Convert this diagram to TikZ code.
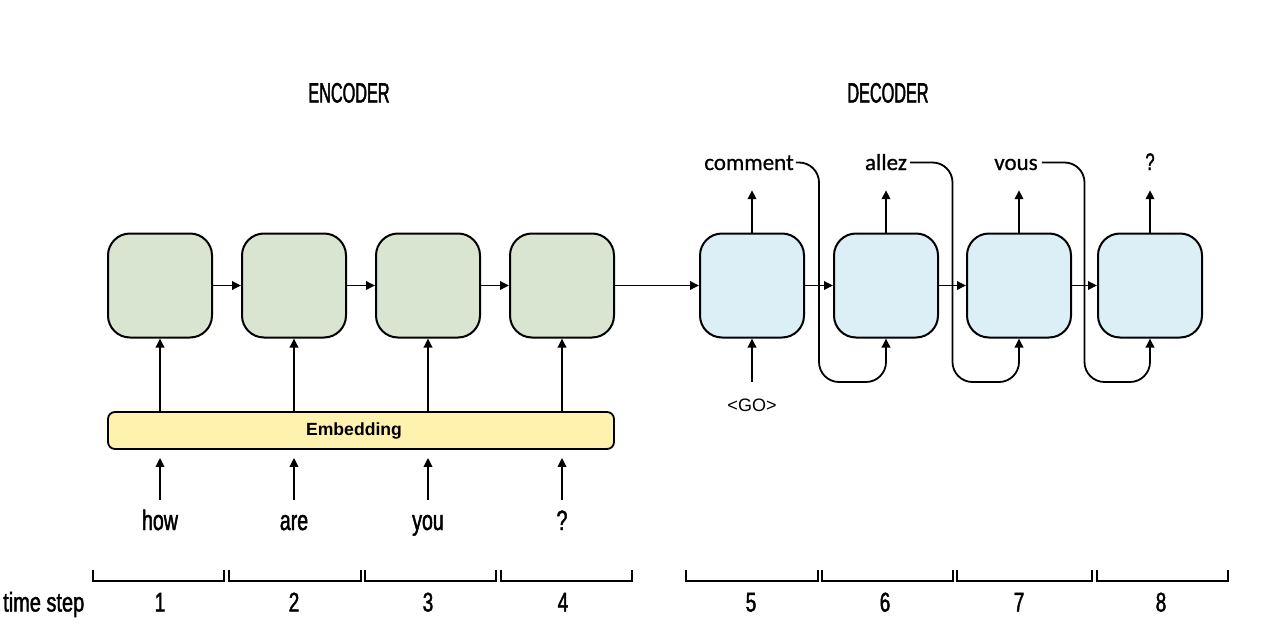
\documentclass[tikz,border=0pt]{standalone}
\usepackage{fontspec}
\setmainfont{Liberation Sans}
\newfontfamily\titlefont[FakeStretch=0.58,FakeBold=1.6]{Liberation Sans}
\newfontfamily\condfont[FakeStretch=0.70,FakeBold=1.6]{Liberation Sans}
\newfontfamily\stepfont[FakeStretch=0.74,FakeBold=1.6]{Liberation Sans}
\newfontfamily\calfont[FakeBold=0.8]{Carlito}
\usetikzlibrary{arrows.meta,calc}

\definecolor{encfill}{HTML}{D9E5D0}
\definecolor{decfill}{HTML}{DCEEF6}
\definecolor{embfill}{HTML}{FEF2AE}

\begin{document}
\begin{tikzpicture}[x=1pt,y=-1pt,
  cell/.style={draw, line width=2pt, rounded corners=22pt,
    minimum width=104pt, minimum height=104pt, inner sep=0pt},
  enc/.style={cell, fill=encfill},
  dec/.style={cell, fill=decfill},
  emb/.style={draw, line width=1.8pt, fill=embfill, rounded corners=7pt,
    minimum width=506pt, minimum height=37pt, inner sep=0pt,
    font=\bfseries\fontsize{17.6}{20}\selectfont},
  conn/.style={line width=1.8pt, -{Triangle[length=9pt,width=8.5pt]}},
  feedback/.style={conn, rounded corners=20pt},
  bracket/.style={line width=1.8pt},
  title/.style={anchor=base, inner sep=0pt, font=\titlefont\fontsize{28}{30}\selectfont},
  word/.style={anchor=base, inner sep=0pt, text height=22pt, text depth=0pt,
    font=\condfont\fontsize{28}{30}\selectfont},
  outlab/.style={anchor=base, inner sep=0pt, text height=15pt, text depth=0pt,
    font=\calfont\fontsize{23}{26}\selectfont},
  qlab/.style={outlab, font=\condfont\fontsize{24}{26}\selectfont},
  golab/.style={anchor=base, inner sep=0pt, text height=13.5pt, text depth=0pt,
    font=\fontsize{18}{20}\selectfont},
  num/.style={anchor=base, inner sep=0pt, font=\condfont\fontsize{27}{30}\selectfont},
  steplab/.style={anchor=base west, inner sep=0pt, font=\stepfont\fontsize{27}{30}\selectfont}
]
\useasboundingbox (0,0) rectangle (1267,629);
\fill[white] (0,0) rectangle (1267,629);

% headings
\node[title] (enctitle) at (349,102.5) {ENCODER};
\node[title] (dectitle) at (888,102.5) {DECODER};

% encoder cells
\node[enc] (e1) at (160,285.5) {};
\node[enc] (e2) at (294,285.5) {};
\node[enc] (e3) at (428,285.5) {};
\node[enc] (e4) at (562,285.5) {};

% decoder cells
\node[dec] (d5) at (752,285.5) {};
\node[dec] (d6) at (886,285.5) {};
\node[dec] (d7) at (1019,285.5) {};
\node[dec] (d8) at (1150,285.5) {};

% embedding layer (label set slightly left of and below the bar's centre)
\node[emb] (emb) at (361,430.5) {\raisebox{-3pt}{Embedding}\hspace*{14pt}};

% input words
\node[word] (w1) at (160,530) {how};
\node[word] (w2) at (294,530) {are};
\node[word] (w3) at (428,530) {you};
\node[word] (w4) at (562,530) {?};

% decoder outputs and start token
\node[outlab] (o5) at (749,170) {comment};
\node[outlab] (o6) at (886,170) {allez};
\node[outlab] (o7) at (1016,170) {vous};
\node[qlab] (o8) at (1150,170) {?};
\node[golab] (go) at (752,411.5) {<GO>};

\coordinate (low) at (0,382);
\coordinate (g56) at ($(d5.east)!0.5!(d6.west)$);
\coordinate (g67) at ($(d6.east)!0.5!(d7.west)$);
\coordinate (g78) at ($(d7.east)!0.5!(d8.west)$);

% recurrent connections
\draw[conn] (e1.east) -- (e2.west);
\draw[conn] (e2.east) -- (e3.west);
\draw[conn] (e3.east) -- (e4.west);
\draw[conn] (e4.east) -- (d5.west);
\draw[conn] (d5.east) -- (d6.west);
\draw[conn] (d6.east) -- (d7.west);
\draw[conn] (d7.east) -- (d8.west);

% embedding to encoder cells
\foreach \c in {e1,e2,e3,e4}
  \draw[conn] (\c |- emb.north) -- (\c.south);

% words to embedding
\foreach \w in {w1,w2,w3,w4}
  \draw[conn, shorten <=8pt, shorten >=8pt] (\w.north) -- (\w.north |- emb.south);

% decoder outputs
\draw[conn, shorten >=20pt] (d5.north) -- (d5.north |- o5.south);
\draw[conn, shorten >=20pt] (d6.north) -- (d6.north |- o6.south);
\draw[conn, shorten >=20pt] (d7.north) -- (d7.north |- o7.south);
\draw[conn, shorten >=20pt] (d8.north) -- (d8.north |- o8.south);

% start token
\draw[conn, shorten <=16pt] (go.north) -- (d5.south);

% outputs fed back as next inputs
\draw[feedback] ([xshift=2pt]o5.east) -- (g56 |- o5.east) -- (g56 |- low)
  -- (d6 |- low) -- (d6.south);
\draw[feedback] ([xshift=3pt]o6.east) -- (g67 |- o6.east) -- (g67 |- low)
  -- (d7 |- low) -- (d7.south);
\draw[feedback] ([xshift=4pt]o7.east) -- (g78 |- o7.east) -- (g78 |- low)
  -- (d8 |- low) -- (d8.south);

% time step axis
\draw[bracket] (93,570) -- (93,581) -- (224,581) -- (224,570);
\draw[bracket] (229,570) -- (229,581) -- (361,581) -- (361,570);
\draw[bracket] (365,570) -- (365,581) -- (496,581) -- (496,570);
\draw[bracket] (501,570) -- (501,581) -- (632,581) -- (632,570);
\draw[bracket] (686,570) -- (686,581) -- (818,581) -- (818,570);
\draw[bracket] (822,570) -- (822,581) -- (953,581) -- (953,570);
\draw[bracket] (957,570) -- (957,581) -- (1092,581) -- (1092,570);
\draw[bracket] (1097,570) -- (1097,581) -- (1228,581) -- (1228,570);

\node[steplab] (ts) at (3,611.5) {time step};
\node[num] (n1) at (160,611.5) {1};
\node[num] (n2) at (294,611.5) {2};
\node[num] (n3) at (428,611.5) {3};
\node[num] (n4) at (563,611.5) {4};
\node[num] (n5) at (751,611.5) {5};
\node[num] (n6) at (885,611.5) {6};
\node[num] (n7) at (1019,611.5) {7};
\node[num] (n8) at (1161,611.5) {8};
\end{tikzpicture}
\end{document}
